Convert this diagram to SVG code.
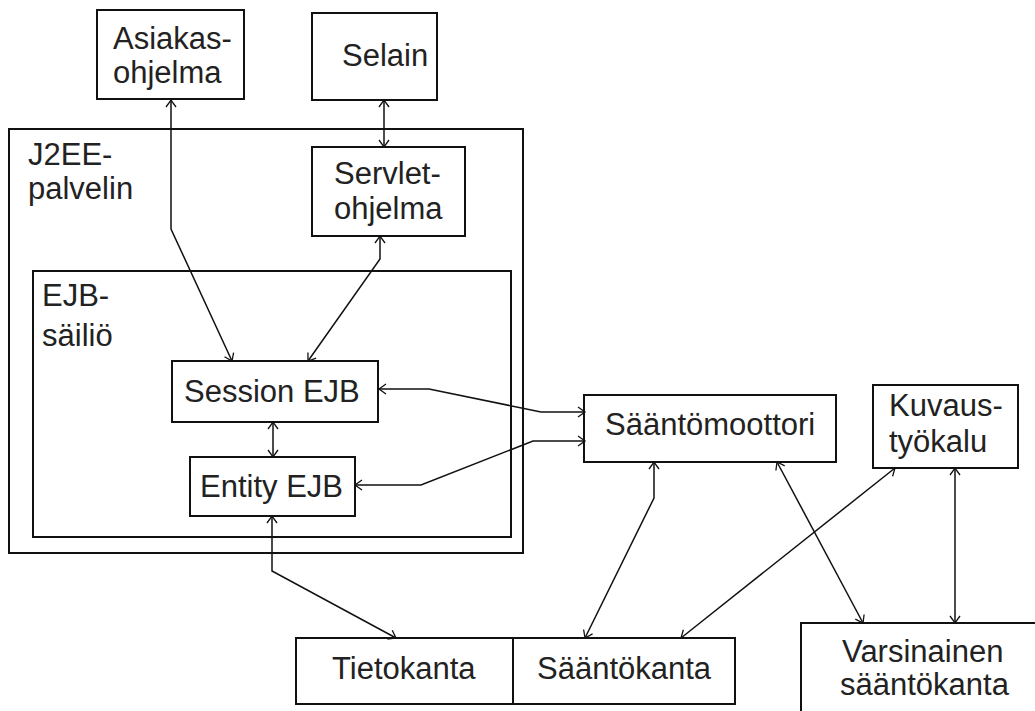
<svg xmlns="http://www.w3.org/2000/svg" width="1035" height="711" viewBox="0 0 1035 711">
  <style>
    .box { fill: none; stroke: #111; stroke-width: 2; }
    .lbl { font-family: "Liberation Sans", Arial, sans-serif; font-size: 31px; fill: #222; }
    .conn { fill: none; stroke: #111; stroke-width: 1.5; marker-start: url(#arr); marker-end: url(#arr); }
  </style>
  <defs>
    <!-- open V arrowhead used at both ends of every connector -->
    <marker id="arr" markerUnits="userSpaceOnUse" markerWidth="16" markerHeight="16" refX="0" refY="0" viewBox="-9 -8 10 16" orient="auto-start-reverse" overflow="visible">
      <path d="M-7,-5 L0,0 L-7,5" fill="none" stroke="#111" stroke-width="1.3"/>
    </marker>
  </defs>
  <rect width="1035" height="711" fill="#fff"/>

  <!-- containers -->
  <g id="j2ee">
    <rect class="box" x="9" y="129" width="514" height="424"/>
    <text class="lbl" x="28" y="165">J2EE-</text>
    <text class="lbl" x="28" y="199">palvelin</text>
  </g>
  <g id="ejb-container">
    <rect class="box" x="33" y="271" width="478" height="266"/>
    <text class="lbl" x="42" y="306">EJB-</text>
    <text class="lbl" x="42" y="346">säiliö</text>
  </g>

  <!-- nodes -->
  <g id="asiakas">
    <rect class="box" x="97" y="10" width="147" height="89"/>
    <text class="lbl" x="113" y="49">Asiakas-</text>
    <text class="lbl" x="113" y="83">ohjelma</text>
  </g>
  <g id="selain">
    <rect class="box" x="312" y="13" width="125" height="87"/>
    <text class="lbl" x="342" y="66">Selain</text>
  </g>
  <g id="servlet">
    <rect class="box" x="312" y="147" width="153" height="89"/>
    <text class="lbl" x="334" y="184">Servlet-</text>
    <text class="lbl" x="334" y="219">ohjelma</text>
  </g>
  <g id="session">
    <rect class="box" x="172" y="361" width="206" height="61"/>
    <text class="lbl" x="184" y="402">Session EJB</text>
  </g>
  <g id="entity">
    <rect class="box" x="190" y="457" width="165" height="59"/>
    <text class="lbl" x="200" y="497">Entity EJB</text>
  </g>
  <g id="saantomoottori">
    <rect class="box" x="584" y="395" width="252" height="67"/>
    <text class="lbl" x="605" y="435">Sääntömoottori</text>
  </g>
  <g id="kuvaustyokalu">
    <rect class="box" x="873" y="385" width="145" height="83"/>
    <text class="lbl" x="889" y="416">Kuvaus-</text>
    <text class="lbl" x="889" y="452">työkalu</text>
  </g>
  <g id="tietokanta">
    <rect class="box" x="296" y="638" width="217" height="66"/>
    <text class="lbl" x="332" y="679">Tietokanta</text>
  </g>
  <g id="saantokanta">
    <rect class="box" x="513" y="638" width="222" height="66"/>
    <text class="lbl" x="537" y="679">Sääntökanta</text>
  </g>
  <g id="varsinainen">
    <rect class="box" x="801" y="623" width="242" height="100"/>
    <text class="lbl" x="842" y="662">Varsinainen</text>
    <text class="lbl" x="840" y="695">sääntökanta</text>
  </g>

  <!-- connectors (two-way) -->
  <g id="connectors">
    <path class="conn" d="M171,100 L171,229 L232,361"/>
    <path class="conn" d="M384,100 L384,147"/>
    <path class="conn" d="M380,236 L380,259 L308,361"/>
    <path class="conn" d="M273,422 L273,457"/>
    <path class="conn" d="M379,389 L429,389 L541,412 L585,412"/>
    <path class="conn" d="M355,485 L421,485 L533,441 L585,441"/>
    <path class="conn" d="M272,516 L272,571 L396,638"/>
    <path class="conn" d="M654,462 L654,498 L585,638"/>
    <path class="conn" d="M895,468 L681,638"/>
    <path class="conn" d="M777,462 L863,623"/>
    <path class="conn" d="M955,468 L955,623"/>
  </g>
</svg>
